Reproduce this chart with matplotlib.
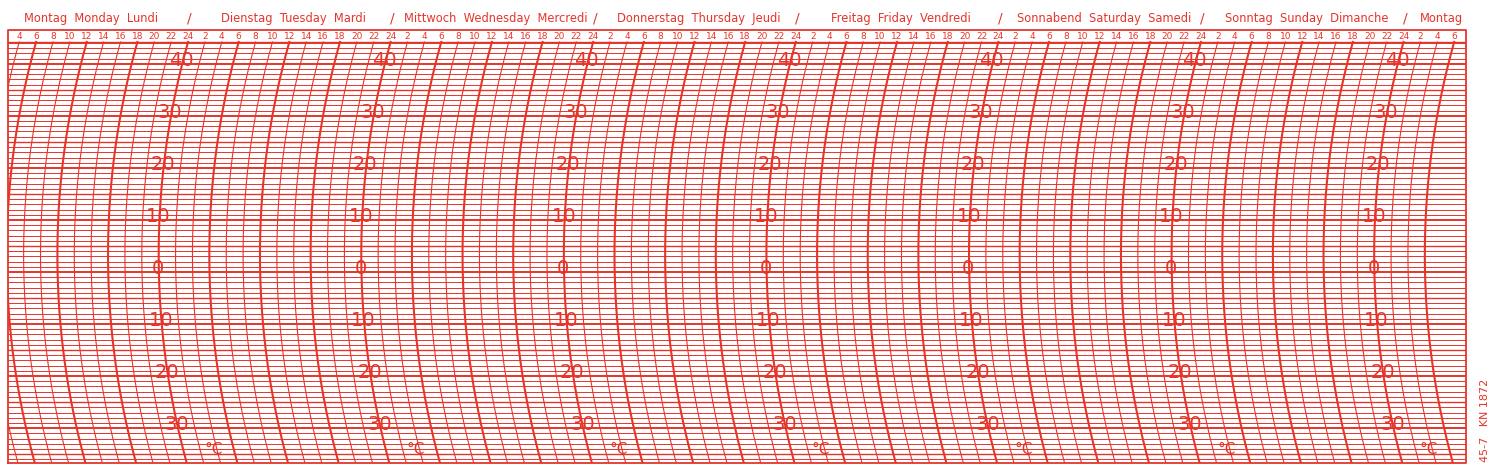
import numpy as np
import matplotlib
matplotlib.use("Agg")
import matplotlib.pyplot as plt

RED = "#e5352b"
day_names = ["Montag  Monday  Lundi", "Dienstag  Tuesday  Mardi", "Mittwoch  Wednesday  Mercredi",
             "Donnerstag  Thursday  Jeudi", "Freitag  Friday  Vendredi", "Sonnabend  Saturday  Samedi",
             "Sonntag  Sunday  Dimanche"]
temp_labels = [40, 30, 20, 10, 0, -10, -20, -30]
hour_ticks = list(range(4, 175, 2))
temp_lines = list(range(-36, 45))
H0, H1 = 2.67, 175.4
T0, T1 = -36.7, 46.5
T_TOP = 44.2
PXH, PXT = 8.44, 5.2  # px per hour, px per degree
R, TC = 785.0, 3.3

def offset_h(T):
    dy_top = (T_TOP - TC) * PXT
    dy = (np.asarray(T) - TC) * PXT
    return (np.sqrt(R**2 - dy_top**2) - np.sqrt(R**2 - dy**2)) / PXH

fig = plt.figure(figsize=(15, 4.71), dpi=100)
ax = fig.add_axes([8/1500, 1-463/471, (1466-8)/1500, (463-30)/471])
ax.set_xlim(H0, H1); ax.set_ylim(T0, T1)
ax.axis("off")
ax.plot([H0, H1, H1, H0, H0], [T0, T0, T1, T1, T0], color=RED, lw=1.3, clip_on=False)

for t in temp_lines:
    lw = 1.4 if t % 10 == 0 else (1.0 if t % 5 == 0 else 0.7)
    ax.plot([H0, H1], [t, t], color=RED, lw=lw)
ax.plot([H0, H1], [T_TOP, T_TOP], color=RED, lw=1.0)

Ts = np.linspace(T0, T_TOP, 200)
for h in hour_ticks:
    lw = 1.5 if h % 6 == 0 else 0.8
    ax.plot(h + offset_h(Ts), Ts, color=RED, lw=lw)
    lab = str(h % 24 if h % 24 else 24)
    ax.text(h, 45.3, lab, color=RED, fontsize=6.5, ha="center", va="center")

for d in range(7):
    base = 24 * (d + 1)
    for T in temp_labels:
        ax.text(base + offset_h(T) - 0.1, T + 0.7, str(abs(T)), color=RED, fontsize=14,
                ha="center", va="center")
    ax.text(base + 3.0, -34.2, "°C", color=RED, fontsize=11, ha="center", va="center")
    ax.text(base - 11.5, 48.8, day_names[d], color=RED, fontsize=8.3, ha="center",
            va="center", clip_on=False)
    ax.text(base + 0.2, 48.8, "/", color=RED, fontsize=10, ha="center", va="center", clip_on=False)
ax.text(168 + 4.5, 48.8, "Montag", color=RED, fontsize=8.3, ha="center", va="center", clip_on=False)

fig.text(1485/1500, 1-420/471, "45-7   KN 1872", color=RED, fontsize=8, rotation=90,
         ha="center", va="center")
fig.savefig("out.png", dpi=100)
